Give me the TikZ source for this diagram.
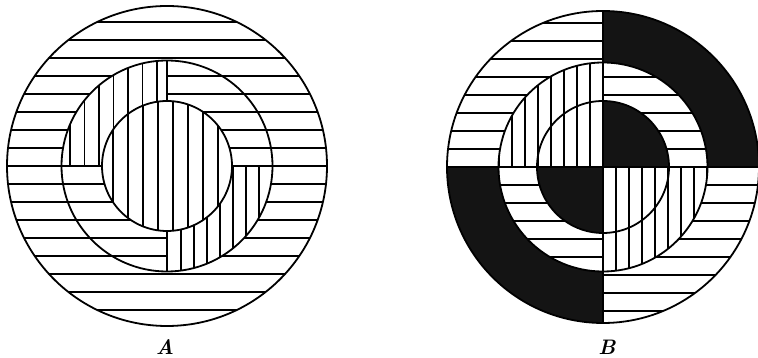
\documentclass[tikz,border=0pt]{standalone}
\usetikzlibrary{positioning}
\begin{document}
\begin{tikzpicture}[x=1pt, y=1pt,
  rim/.style={line width=1.8pt},
  hatch/.style={line width=1.6pt},
  ink/.style={fill=black!92},
  lbl/.style={font=\fontsize{21}{24}\selectfont\bfseries\itshape}]
\useasboundingbox (0,0) rectangle (758,358);

% figure A
\begin{scope}[shift={(167,192)}]
  % outer disc, horizontal lines
  \begin{scope}
    \clip (0,0) circle[radius=160];
    \foreach \y in {-144,-126,...,144}
      \draw[hatch] (-165,\y) -- (165,\y);
  \end{scope}
  % inner disc, vertical lines
  \begin{scope}
    \clip (0,0) circle[radius=65];
    \fill[white] (-70,-70) rectangle (70,70);
    \foreach \x in {-69,-54,...,51}
      \draw[hatch] (\x,-70) -- (\x,70);
  \end{scope}
  % middle ring, upper left
  \begin{scope}
    \clip (-105.5,0) arc[start angle=180, end angle=90, radius=105.5]
      -- (0,65) arc[start angle=90, end angle=180, radius=65] -- cycle;
    \fill[white] (-110,0) rectangle (0,110);
    \foreach \x in {-97,-82.5,...,-9}
      \draw[hatch] (\x,0) -- (\x,110);
  \end{scope}
  % middle ring, lower right
  \begin{scope}
    \clip (105.5,0) arc[start angle=0, end angle=-90, radius=105.5]
      -- (0,-65) arc[start angle=-90, end angle=0, radius=65] -- cycle;
    \fill[white] (0,-110) rectangle (110,0);
    \foreach \x in {14,27,...,92}
      \draw[hatch] (\x,0) -- (\x,-110);
  \end{scope}
  \draw[rim] (0,0) circle[radius=160] (0,0) circle[radius=105.5]
    (0,0) circle[radius=65];
  \draw[rim] (-105.5,0) -- (-65,0) (0,65) -- (0,105.5)
    (65,0) -- (105.5,0) (0,-65) -- (0,-105.5);
\end{scope}
\node[lbl] (labA) at (165,11) {A};

% figure B
\begin{scope}[shift={(603,191)}]
  % black pieces
  \fill[ink] (0,156) arc[start angle=90, end angle=0, radius=156]
    -- (104.5,0) arc[start angle=0, end angle=90, radius=104.5] -- cycle;
  \fill[ink] (-156,0) arc[start angle=180, end angle=270, radius=156]
    -- (0,-104.5) arc[start angle=270, end angle=180, radius=104.5] -- cycle;
  \fill[ink] (0,0) -- (66,0) arc[start angle=0, end angle=90, radius=66] -- cycle;
  \fill[ink] (0,0) -- (-66,0) arc[start angle=180, end angle=270, radius=66] -- cycle;
  % horizontal lines
  \begin{scope}
    \clip (-156,0) arc[start angle=180, end angle=90, radius=156]
        -- (0,104.5) arc[start angle=90, end angle=180, radius=104.5] -- cycle
      (156,0) arc[start angle=0, end angle=-90, radius=156]
        -- (0,-104.5) arc[start angle=-90, end angle=0, radius=104.5] -- cycle
      (104.5,0) arc[start angle=0, end angle=90, radius=104.5]
        -- (0,66) arc[start angle=90, end angle=0, radius=66] -- cycle
      (-104.5,0) arc[start angle=180, end angle=270, radius=104.5]
        -- (0,-66) arc[start angle=270, end angle=180, radius=66] -- cycle;
    \foreach \y in {-144,-126,...,144}
      \draw[hatch] (-160,\y) -- (160,\y);
  \end{scope}
  % vertical lines
  \begin{scope}
    \clip (0,0) -- (-104.5,0) arc[start angle=180, end angle=90, radius=104.5] -- cycle
      (0,0) -- (104.5,0) arc[start angle=0, end angle=-90, radius=104.5] -- cycle;
    \foreach \x in {-104,-91,...,104}
      \draw[hatch] (\x,-110) -- (\x,110);
  \end{scope}
  \draw[rim] (0,0) circle[radius=156] (0,0) circle[radius=104.5]
    (0,0) circle[radius=66];
  \draw[rim] (-156,0) -- (156,0) (0,-156) -- (0,156);
\end{scope}
\node[lbl] (labB) at (607,11) {B};
\end{tikzpicture}
\end{document}
